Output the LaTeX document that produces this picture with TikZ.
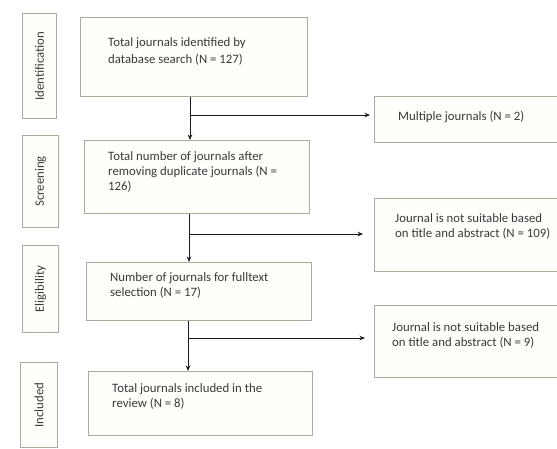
\documentclass[tikz,border=0pt]{standalone}
\usepackage{fontspec}
\setmainfont{Carlito}
\usetikzlibrary{calc,arrows.meta}
\definecolor{boxc}{HTML}{A9AC9C}
\definecolor{boxfill}{HTML}{FEFEFA}
\definecolor{txtc}{HTML}{3A3A3A}
\definecolor{arrc}{HTML}{1A1A1A}
\tikzset{
  box/.style={draw=boxc, fill=boxfill, line width=0.9pt, anchor=north west, inner sep=0pt},
  txt/.style={anchor=base west, inner sep=0pt, align=left, text=txtc,
    font=\fontsize{12.8}{15}\selectfont},
  sidetxt/.style={rotate=90, inner sep=0pt, text=txtc, font=\fontsize{12.8}{15}\selectfont},
  arr/.style={draw=arrc, line width=0.8pt, -{Stealth[length=5.5pt,width=4.5pt]}},
  ln/.style={draw=arrc, line width=0.8pt}
}
\begin{document}
\begin{tikzpicture}[x=1pt,y=-1pt]
\useasboundingbox (0,0) rectangle (557,448);
\clip (0,0) rectangle (557,448);
\fill[white] (0,0) rectangle (557,448);
% side labels
\node[box, minimum width=34pt, minimum height=105pt] (l1) at (22,13) {};
\node[box, minimum width=36pt, minimum height=92pt] (l2) at (22,135) {};
\node[box, minimum width=36pt, minimum height=87pt] (l3) at (22,245) {};
\node[box, minimum width=37pt, minimum height=85pt] (l4) at (20,362) {};
\node[sidetxt] (s1) at (l1.center) {Identification};
\node[sidetxt] (s2) at (l2.center) {Screening};
\node[sidetxt] (s3) at (l3.center) {Eligibility};
\node[sidetxt] (s4) at (l4.center) {Included};
% main boxes
\node[box, minimum width=227pt, minimum height=79pt] (b1) at (80,17) {};
\node[box, minimum width=225pt, minimum height=73pt] (b2) at (84,140) {};
\node[box, minimum width=225pt, minimum height=58pt] (b3) at (86,262) {};
\node[box, minimum width=224pt, minimum height=64pt] (b4) at (88,371) {};
% text nodes: positions are baselines of the last line
\node[txt, font=\fontsize{12.8}{17}\selectfont] (t1) at (108,63) {Total journals identified by\\database search (N = 127)};
\node[txt] (t2) at (108,190) {Total number of journals after\\removing duplicate journals (N =\\126)};
\node[txt] (t3) at (110,296) {Number of journals for fulltext\\selection (N = 17)};
\node[txt] (t4) at (112,407) {Total journals included in the\\review (N = 8)};
% right boxes
\node[box, minimum width=200pt, minimum height=46pt] (r1) at (374,96) {};
\node[box, minimum width=200pt, minimum height=73pt] (r2) at (374,198) {};
\node[box, minimum width=200pt, minimum height=72pt] (r3) at (374,305) {};
\node[txt] (u1) at (398,120) {Multiple journals (N = 2)};
\node[txt] (u2) at (395,237) {Journal is not suitable based\\on title and abstract (N = 109)};
\node[txt] (u3) at (392,346) {Journal is not suitable based\\on title and abstract (N = 9)};
% connectors
\coordinate (j1) at (190,115);
\coordinate (j2) at (189,234);
\coordinate (j3) at (188,338);
\draw[arr] (b1.south -| j1) -- (b2.north -| j1);
\draw[arr] (b2.south -| j2) -- (b3.north -| j2);
\draw[arr] (b3.south -| j3) -- (b4.north -| j3);
\draw[arr, shorten >=4pt] (j1) -- (r1.west |- j1);
\draw[arr, shorten >=11pt] (j2) -- (r2.west |- j2);
\draw[arr, shorten >=9pt] (j3) -- (r3.west |- j3);
\end{tikzpicture}
\end{document}
